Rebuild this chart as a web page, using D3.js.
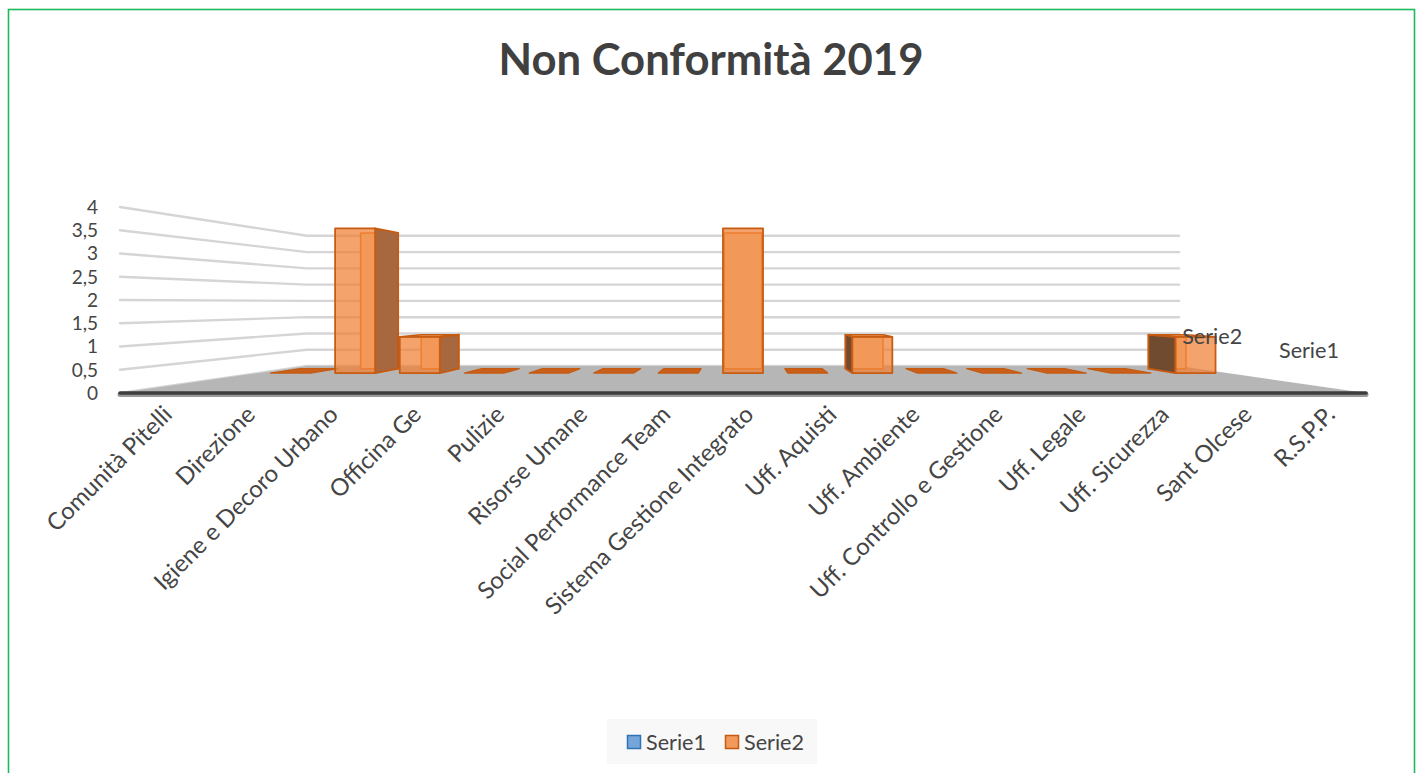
<!DOCTYPE html>
<html>
<head>
<meta charset="utf-8">
<script src="https://cdn.jsdelivr.net/npm/d3@7"></script>
<style>
  html, body { margin: 0; padding: 0; background: #fff; }
  svg { display: block; }
</style>
</head>
<body>
<svg id="chart" width="1423" height="773"></svg>
<script>
// ---- data ----
const titleText = "Non Conformità 2019";
const categories = [
  "Comunità Pitelli", "Direzione", "Igiene e Decoro Urbano", "Officina Ge",
  "Pulizie", "Risorse Umane", "Social Performance Team", "Sistema Gestione Integrato",
  "Uff. Aquisti", "Uff. Ambiente", "Uff. Controllo e Gestione", "Uff. Legale",
  "Uff. Sicurezza", "Sant Olcese", "R.S.P.P."
];
const seriesNames = ["Serie1", "Serie2"];
const serie1 = [null, null, null, null, null, null, null, null, null, null, null, null, null, null, null];
const serie2 = [0, 4, 1, 0, 0, 0, 0, 4, 0, 1, 0, 0, 0, 0, 1];
const yTicks = [0, 0.5, 1, 1.5, 2, 2.5, 3, 3.5, 4];

// ---- setup ----
const FONT = "Lato, 'Open Sans', sans-serif";
const TEXT = "#454545";
const svg = d3.select("#chart");

// measure a string at 100px and return the size that gives the wanted width
function fitSize(str, target, weight) {
  const t = svg.append("text").attr("font-family", FONT).attr("font-size", 100)
    .attr("font-weight", weight || "normal").text(str);
  const w = t.node().getComputedTextLength();
  t.remove();
  return 100 * target / w;
}

// perspective box: u = horizontal offset from centre, w = vertical offset
// from the eye line (front plane), z = depth 0 (front) .. 1 (back)
const cx = 743, vy = 303, halfW = 623;
const kPersp = 1 / 0.7 - 1;
const depthScale = z => 1 / (1 + kPersp * z);
const P = (u, w, z) => { const s = depthScale(z); return [cx + u * s, vy + w * s]; };

const x = d3.scaleBand().domain(categories).range([-halfW, halfW])
  .paddingInner(0.38).paddingOuter(0.19);
const y = d3.scaleLinear().domain([0, 4]).range([90, -96]);
const zBand = d3.scaleBand().domain(seriesNames).range([0, 1])
  .paddingInner(0.623).paddingOuter(0.255);

const fmt = d3.formatLocale({ decimal: ",", thousands: ".", grouping: [3], currency: ["€", ""] }).format("~g");
const line = d3.line();

// background and frame
svg.append("rect").attr("x", 8.5).attr("y", 9.5).attr("width", 1406).attr("height", 790)
  .attr("fill", "#fff").attr("stroke", "#1fb85a").attr("stroke-width", 1.6);

// title
svg.append("text").attr("x", 711).attr("y", 75).attr("text-anchor", "middle")
  .attr("font-family", FONT).attr("font-weight", "bold")
  .attr("font-size", fitSize(titleText, 425, "bold"))
  .attr("fill", "#404040").text(titleText);

// walls: gridlines on back wall and left side wall
const grid = svg.append("g").attr("fill", "none").attr("stroke", "#d5d5d5")
  .attr("stroke-width", 2.4).attr("stroke-linecap", "round");
yTicks.forEach(v => {
  grid.append("path").attr("d", line([P(-halfW, y(v), 0), P(-halfW, y(v), 1), P(halfW, y(v), 1)]));
});

// floor
svg.append("path")
  .attr("d", line([P(-halfW, y(0), 0), P(-halfW, y(0), 1), P(halfW, y(0), 1), P(halfW, y(0), 0)]) + "Z")
  .attr("fill", "#b6b6b6");

// bars
const barsG = svg.append("g").attr("stroke-linejoin", "round");
const allSeries = [serie1, serie2];
allSeries.forEach((vals, si) => {
  const z0 = zBand(seriesNames[si]), z1 = z0 + zBand.bandwidth();
  vals.forEach((v, i) => {
    if (v === null || v === undefined) return;
    const u0 = x(categories[i]), u1 = u0 + x.bandwidth();
    const wb = y(0), wt = y(v);
    const g = barsG.append("g");
    const poly = pts => line(pts) + "Z";
    if (v === 0) {
      g.append("path").attr("d", poly([P(u0, wb, z0), P(u1, wb, z0), P(u1, wb, z1), P(u0, wb, z1)]))
        .attr("fill", "#c8601b").attr("stroke", "#c55a11").attr("stroke-width", 1.2);
      return;
    }
    // back face, seen through the translucent front
    g.append("path").attr("d", poly([P(u0, wb, z1), P(u1, wb, z1), P(u1, wt, z1), P(u0, wt, z1)]))
      .attr("fill", "#fbd9c0").attr("stroke", "#ea7a2e").attr("stroke-width", 1.5);
    // side facing the viewer
    if (u1 < 0) {
      g.append("path").attr("d", poly([P(u1, wb, z0), P(u1, wb, z1), P(u1, wt, z1), P(u1, wt, z0)]))
        .attr("fill", "#a8683f").attr("stroke", "#c55a11").attr("stroke-width", 1.8);
    } else if (u0 > 0) {
      g.append("path").attr("d", poly([P(u0, wb, z0), P(u0, wb, z1), P(u0, wt, z1), P(u0, wt, z0)]))
        .attr("fill", "#704b30").attr("stroke", "#c55a11").attr("stroke-width", 1.8);
    }
    // top visible when it lies below the eye line
    if (wt > 0) {
      g.append("path").attr("d", poly([P(u0, wt, z0), P(u1, wt, z0), P(u1, wt, z1), P(u0, wt, z1)]))
        .attr("fill", "#f5a56c").attr("stroke", "#c55a11").attr("stroke-width", 1.6);
    }
    // front face
    g.append("path").attr("d", poly([P(u0, wb, z0), P(u1, wb, z0), P(u1, wt, z0), P(u0, wt, z0)]))
      .attr("fill", "#ef8032").attr("fill-opacity", 0.72)
      .attr("stroke", "#c85c13").attr("stroke-width", 1.8);
  });
});

// front axis edge
svg.append("path").attr("d", line([P(-halfW, y(0) + 1.5, 0), P(halfW, y(0) + 1.5, 0)]))
  .attr("stroke", "#9a9a9a").attr("stroke-width", 5).attr("stroke-linecap", "round");
svg.append("path").attr("d", line([P(-halfW, y(0), 0), P(halfW, y(0), 0)]))
  .attr("stroke", "#3d3d3d").attr("stroke-width", 3.6).attr("stroke-linecap", "round");

// value labels
svg.append("g").selectAll("text").data(yTicks).join("text")
  .attr("x", 98).attr("y", d => P(-halfW, y(d), 0)[1])
  .attr("dy", "0.36em").attr("text-anchor", "end")
  .attr("font-family", FONT).attr("font-size", 19).attr("fill", TEXT)
  .text(d => fmt(d));

// category labels
const catSize = fitSize("Sistema Gestione Integrato", 283);
svg.append("g").selectAll("text").data(categories).join("text")
  .attr("transform", d => {
    const px = P(x(d) + x.bandwidth() / 2, y(0), 0)[0] + 12;
    return `translate(${px},416) rotate(-45)`;
  })
  .attr("text-anchor", "end")
  .attr("font-family", FONT).attr("font-size", catSize).attr("fill", TEXT)
  .text(d => d);

// series labels along the depth axis
const serSize = fitSize("Serie1", 60);
svg.append("g").selectAll("text").data(seriesNames).join("text")
  .attr("x", d => P(halfW, y(0), zBand(d) + zBand.bandwidth() / 2)[0])
  .attr("y", d => P(halfW, y(0), zBand(d) + zBand.bandwidth() / 2)[1] - 27)
  .attr("text-anchor", "middle")
  .attr("font-family", FONT).attr("font-size", serSize).attr("fill", TEXT)
  .text(d => d);

// legend
const legendColors = [["#75a5da", "#2e75b6"], ["#f29a5b", "#c55a11"]];
const lg = svg.append("g");
lg.append("rect").attr("x", 607).attr("y", 719).attr("width", 210).attr("height", 45).attr("fill", "#f8f8f8");
const item = lg.selectAll("g").data(seriesNames).join("g")
  .attr("transform", (d, i) => `translate(${627 + i * 98},0)`);
item.append("rect").attr("x", 0.5).attr("y", 735.5).attr("width", 13).attr("height", 13)
  .attr("fill", (d, i) => legendColors[i][0]).attr("stroke", (d, i) => legendColors[i][1]).attr("stroke-width", 1.5);
item.append("text").attr("x", 19).attr("y", 750)
  .attr("font-family", FONT).attr("font-size", serSize).attr("fill", TEXT).text(d => d);
</script>
</body>
</html>
